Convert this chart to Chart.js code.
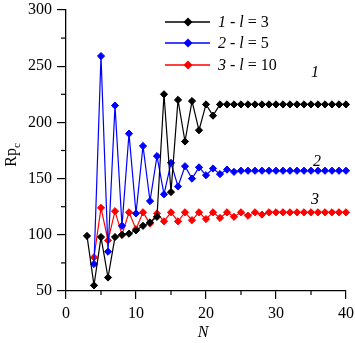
<!DOCTYPE html>
<html>
<head>
  <meta charset="UTF-8">
  <title>Rpc vs N</title>
  <script src="https://cdn.jsdelivr.net/npm/chart.js"></script>
  <style>
    html, body { margin: 0; padding: 0; background: #fff; }
  </style>
</head>
<body>
  <div style="width: 355px; height: 343px;">
    <canvas id="rpChart"></canvas>
  </div>

  <script>
    // N values for each curve
    const nBlack = [3, 4, 5, 6, 7, 8, 9, 10, 11, 12, 13, 14, 15, 16, 17, 18, 19, 20, 21,
      22, 23, 24, 25, 26, 27, 28, 29, 30, 31, 32, 33, 34, 35, 36, 37, 38, 39, 40];
    const nOther = [4, 5, 6, 7, 8, 9, 10, 11, 12, 13, 14, 15, 16, 17, 18, 19, 20, 21,
      22, 23, 24, 25, 26, 27, 28, 29, 30, 31, 32, 33, 34, 35, 36, 37, 38, 39, 40];

    // 1 - l = 3
    const rp3 = [99, 55, 98, 62, 98, 100, 101, 104, 108, 111, 116, 225, 138, 220, 183, 219, 193, 216, 206,
      216, 216, 216, 216, 216, 216, 216, 216, 216, 216, 216, 216, 216, 216, 216, 216, 216, 216, 216];
    // 2 - l = 5
    const rp5 = [74, 259, 85, 215, 108, 190, 119, 179, 130, 170, 136, 164, 143, 161, 150, 160, 153, 159,
      154, 158, 156, 157, 157, 157, 157, 157, 157, 157, 157, 157, 157, 157, 157, 157, 157, 157, 157];
    // 3 - l = 10
    const rp10 = [80, 124, 95, 121, 100, 120, 105, 120, 110, 119, 112, 120, 112, 120, 113, 120, 114, 120,
      115, 120, 116, 120, 117, 120, 118, 120, 120, 120, 120, 120, 120, 120, 120, 120, 120, 120, 120];

    const xTicks = [0, 10, 20, 30, 40];
    const yTicks = [50, 100, 150, 200, 250, 300];

    const seriesNames = [['1', ' - ', 'l', ' = 3'], ['2', ' - ', 'l', ' = 5'], ['3', ' - ', 'l', ' = 10']];
    const curveLabels = ['1', '2', '3'];

    const serif = '"Liberation Serif", "Times New Roman", serif';

    function pts(xs, ys) {
      return xs.map((x, i) => ({ x: x, y: ys[i] }));
    }

    function ds(data, color) {
      return {
        data: data,
        borderColor: color,
        backgroundColor: color,
        borderWidth: 1.2,
        pointStyle: 'rectRot',
        pointRadius: 3.6,
        pointBorderWidth: 1,
        tension: 0,
        clip: false
      };
    }

    const colors = ['#000000', '#0000ff', '#ff0000'];

    const extras = {
      id: 'extras',
      afterDraw(chart) {
        const ctx = chart.ctx;
        const xs = chart.scales.x;
        const ys = chart.scales.y;
        ctx.save();
        ctx.strokeStyle = '#000';
        ctx.lineWidth = 1.2;
        // minor ticks
        for (let v = 5; v < 40; v += 10) {
          const px = xs.getPixelForValue(v);
          ctx.beginPath();
          ctx.moveTo(px, ys.bottom);
          ctx.lineTo(px, ys.bottom + 4);
          ctx.stroke();
        }
        for (let v = 75; v < 300; v += 50) {
          const py = ys.getPixelForValue(v);
          ctx.beginPath();
          ctx.moveTo(xs.left, py);
          ctx.lineTo(xs.left - 5, py);
          ctx.stroke();
        }

        // legend
        const rows = [22, 43, 65];
        rows.forEach((ry, i) => {
          ctx.strokeStyle = colors[i];
          ctx.lineWidth = 1.5;
          ctx.beginPath();
          ctx.moveTo(165, ry);
          ctx.lineTo(210, ry);
          ctx.stroke();
          ctx.fillStyle = colors[i];
          ctx.beginPath();
          ctx.moveTo(188, ry - 4.5);
          ctx.lineTo(192.5, ry);
          ctx.lineTo(188, ry + 4.5);
          ctx.lineTo(183.5, ry);
          ctx.closePath();
          ctx.fill();

          ctx.fillStyle = '#000';
          ctx.textBaseline = 'middle';
          ctx.textAlign = 'left';
          let tx = 218;
          seriesNames[i].forEach((part, k) => {
            ctx.font = (k === 0 || k === 2 ? 'italic ' : '') + '16px ' + serif;
            ctx.fillText(part, tx, ry + 1);
            tx += ctx.measureText(part).width;
          });
        });

        // curve numbers
        ctx.fillStyle = '#000';
        ctx.font = 'italic 16px ' + serif;
        ctx.textAlign = 'center';
        ctx.textBaseline = 'middle';
        ctx.fillText(curveLabels[0], 315, 73);
        ctx.fillText(curveLabels[1], 317, 162);
        ctx.fillText(curveLabels[2], 315, 200);

        // x title
        ctx.fillText('N', 203, 333);

        // y title
        ctx.translate(12, 155);
        ctx.rotate(-Math.PI / 2);
        ctx.textAlign = 'left';
        ctx.font = '16px ' + serif;
        const w1 = ctx.measureText('Rp').width;
        ctx.font = '11px ' + serif;
        const w2 = ctx.measureText('c').width;
        const start = -(w1 + w2) / 2;
        ctx.font = '16px ' + serif;
        ctx.fillText('Rp', start, 0);
        ctx.font = '11px ' + serif;
        ctx.fillText('c', start + w1, 5);
        ctx.restore();
      }
    };

    new Chart(document.getElementById('rpChart'), {
      type: 'line',
      data: {
        datasets: [
          ds(pts(nBlack, rp3), colors[0]),
          ds(pts(nOther, rp5), colors[1]),
          ds(pts(nOther, rp10), colors[2])
        ]
      },
      options: {
        responsive: true,
        maintainAspectRatio: false,
        animation: false,
        devicePixelRatio: 1,
        layout: { padding: { top: 10, right: 9, left: 0, bottom: 0 } },
        plugins: {
          legend: { display: false },
          tooltip: { enabled: false }
        },
        scales: {
          x: {
            type: 'linear',
            min: 0,
            max: 40,
            afterFit(scale) {
              scale.height = 52;
              scale.paddingLeft = 0;
              scale.paddingRight = 0;
            },
            afterBuildTicks(scale) { scale.ticks = xTicks.map(v => ({ value: v })); },
            border: { color: '#000', width: 1.3 },
            grid: { drawOnChartArea: false, tickLength: 8, color: '#000', lineWidth: 1.2 },
            ticks: { color: '#000', padding: 5, font: { family: serif, size: 16 } }
          },
          y: {
            min: 50,
            max: 300,
            afterFit(scale) {
              scale.width = 66;
              scale.paddingTop = 0;
              scale.paddingBottom = 0;
            },
            afterBuildTicks(scale) { scale.ticks = yTicks.map(v => ({ value: v })); },
            border: { color: '#000', width: 1.3 },
            grid: { drawOnChartArea: false, tickLength: 9, color: '#000', lineWidth: 1.2 },
            ticks: { color: '#000', padding: 5, font: { family: serif, size: 16 } }
          }
        }
      },
      plugins: [extras]
    });
  </script>
</body>
</html>
